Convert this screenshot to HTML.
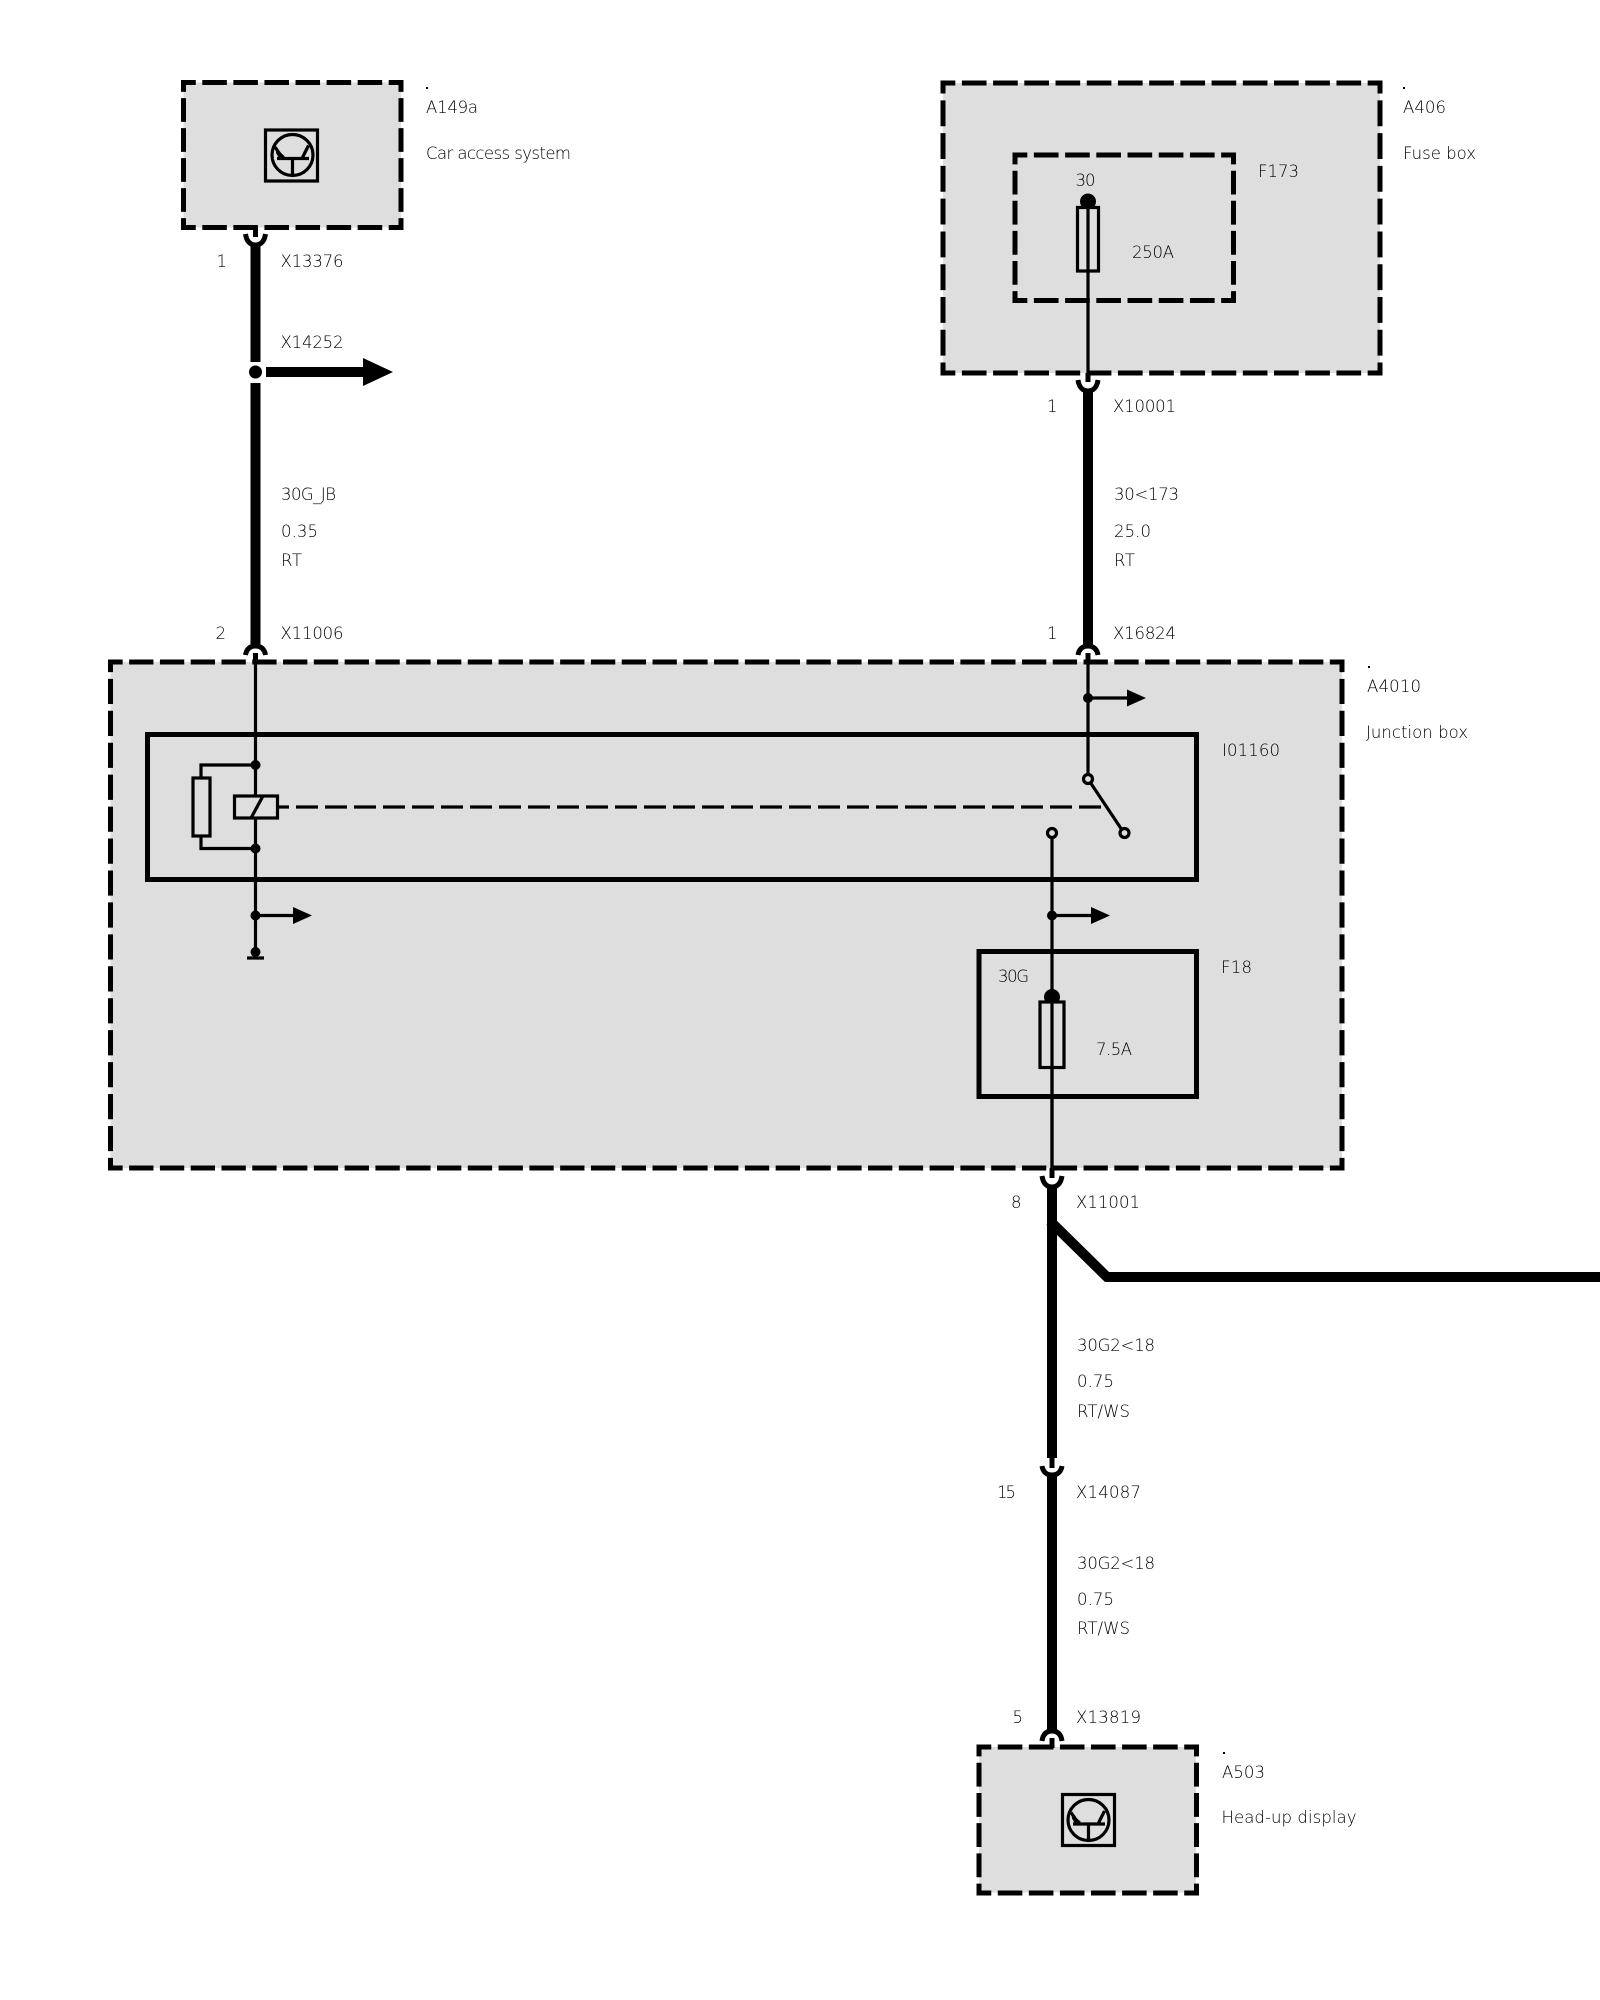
<!DOCTYPE html>
<html><head><meta charset="utf-8"><style>
html,body{margin:0;padding:0;background:#fff;width:1600px;height:2000px;overflow:hidden}
svg{display:block}
text{font-family:"DejaVu Sans ExtraLight","DejaVu Sans","Liberation Sans",sans-serif;font-weight:200;font-size:16.5px;fill:#000}
.d{fill:none;stroke:#000;stroke-width:5;stroke-dasharray:.79 .21;stroke-dashoffset:.395}
.w{fill:none;stroke:#000;stroke-width:3.2}
.s{fill:none;stroke:#000;stroke-width:5}
.t{fill:none;stroke:#000;stroke-width:10}
.p{fill:none;stroke:#000;stroke-width:5}
.c{fill:none;stroke:#000;stroke-width:5}
.g{fill:#dedede;stroke:#000;stroke-width:3.2}
</style></head><body>
<svg width="1600" height="2000" viewBox="0 0 1600 2000" xmlns="http://www.w3.org/2000/svg">
<rect width="1600" height="2000" fill="#fff"/>
<!-- fills -->
<rect x="183.5" y="82.5" width="217.5" height="145" fill="#dedede"/>
<rect x="943" y="83" width="437" height="290" fill="#dedede"/>
<rect x="110.5" y="662" width="1231.5" height="506" fill="#dedede"/>
<rect x="979" y="1747" width="217" height="145.5" fill="#dedede"/>

<!-- A149a dashed -->
<path class="d" pathLength="7" d="M183.5 82.5H401"/><path class="d" pathLength="7" d="M183.5 227.5H401"/>
<path class="d" pathLength="5" d="M183.5 80V230"/><path class="d" pathLength="5" d="M401 80V230"/>
<!-- A406 dashed -->
<path class="d" pathLength="14" d="M943 83H1380"/><path class="d" pathLength="14" d="M943 373H1380"/>
<path class="d" pathLength="9" d="M943 80.5V375.5"/><path class="d" pathLength="9" d="M1380 80.5V375.5"/>
<!-- F173 dashed -->
<path class="d" pathLength="7" d="M1015 155H1233.5"/><path class="d" pathLength="7" d="M1015 300.5H1233.5"/>
<path class="d" pathLength="5" d="M1015 152.5V303"/><path class="d" pathLength="5" d="M1233.5 152.5V303"/>
<!-- A4010 dashed -->
<path class="d" pathLength="40" d="M110.5 662H1342"/><path class="d" pathLength="40" d="M110.5 1168H1342"/>
<path class="d" pathLength="16" d="M110.5 659.5V1170.5"/><path class="d" pathLength="16" d="M1342 659.5V1170.5"/>
<!-- A503 dashed -->
<path class="d" pathLength="7" d="M979 1747H1196.5"/><path class="d" pathLength="7" d="M979 1893H1196.5"/>
<path class="d" pathLength="5" d="M979 1744.5V1895.5"/><path class="d" pathLength="5" d="M1196.5 1744.5V1895.5"/>

<!-- solid boxes -->
<rect class="s" x="147.5" y="734.5" width="1049" height="145"/>
<rect class="s" x="979" y="951.5" width="217.5" height="145"/>

<!-- IC symbol A149a -->
<g>
<rect x="265.5" y="130" width="52" height="51" fill="none" stroke="#000" stroke-width="3.2"/>
<circle cx="292.5" cy="155" r="20.5" fill="none" stroke="#000" stroke-width="3.2"/>
<path d="M277 158.5H309M292.5 158.5V175M302 158.5L308.5 145.5M283 158.5L275 147" fill="none" stroke="#000" stroke-width="3.2"/>
<path d="M275.5 148L285 156.5L279 158L276 153Z" fill="#000"/>
</g>
<!-- IC symbol A503 -->
<g>
<rect x="1062.5" y="1794.5" width="52" height="51" fill="none" stroke="#000" stroke-width="3.2"/>
<circle cx="1088.5" cy="1820" r="20.5" fill="none" stroke="#000" stroke-width="3.2"/>
<path d="M1073 1824H1105M1088.5 1824V1840M1098 1824L1104.5 1811M1079 1824L1071 1812.5" fill="none" stroke="#000" stroke-width="3.2"/>
<path d="M1071.5 1813.5L1081 1822L1075 1823.5L1072 1818.5Z" fill="#000"/>
</g>

<!-- Left top wire -->
<path class="p" d="M255.5 228V237"/>
<path class="c" d="M245.5 234C246.5 241 250 245 255.5 245C261 245 264.5 241 265.5 234"/>
<path class="t" d="M255.5 244V362"/>
<circle cx="255.5" cy="372" r="6.5" fill="#000"/>
<path class="t" d="M266 372H364"/>
<path d="M363 358L393 372L363 386Z" fill="#000"/>
<path class="t" d="M255.5 383V646"/>
<path class="c" d="M245.5 655C246.5 649 250 646 255.5 646C261 646 264.5 649 265.5 655"/>
<path class="p" d="M255.5 653V663"/>

<!-- Left internal wire -->
<path class="w" d="M255.5 662V796M255.5 818V952"/>
<circle cx="255.5" cy="765" r="5" fill="#000"/>
<circle cx="255.5" cy="848.5" r="5" fill="#000"/>
<path class="w" d="M255 765H201V778M201 836V848.5H255"/>
<rect class="g" x="193" y="778" width="17" height="58"/>
<rect class="g" x="234.5" y="796" width="43" height="22"/>
<path class="w" d="M251 818L263 796"/>
<path class="w" stroke-dasharray="22 7" stroke-dashoffset="10" d="M277 807H1103"/>
<circle cx="255.5" cy="915.5" r="5" fill="#000"/>
<path class="w" d="M255 915.5H294"/>
<path d="M293 907L312 915.5L293 924Z" fill="#000"/>
<circle cx="255.5" cy="952" r="5" fill="#000"/>
<path class="w" d="M247 958H264"/>

<!-- Right top: fuse F173 -->
<circle cx="1088" cy="201.5" r="8" fill="#000"/>
<rect class="g" x="1077.5" y="207.5" width="21" height="63.5"/>
<path class="w" d="M1088 201V380"/>
<path class="p" d="M1088 373V382"/>
<path class="c" d="M1078 380C1079 387 1082.5 391 1088 391C1093.5 391 1097 387 1098 380"/>
<path class="t" d="M1088 390V646"/>
<path class="c" d="M1078 655C1079 649 1082.5 646 1088 646C1093.5 646 1097 649 1098 655"/>
<path class="p" d="M1088 653V663"/>
<path class="w" d="M1088 662V775"/>
<circle cx="1088" cy="698" r="5" fill="#000"/>
<path class="w" d="M1088 698H1128"/>
<path d="M1127 689.5L1146 698L1127 706.5Z" fill="#000"/>
<!-- switch -->
<path class="w" d="M1088 779L1124 833"/>
<circle cx="1088" cy="779" r="4.5" class="g"/>
<circle cx="1124.5" cy="833" r="4.5" class="g"/>
<circle cx="1052" cy="833" r="4.5" class="g"/>
<path class="w" d="M1052 838V1172"/>
<circle cx="1052" cy="915.5" r="5" fill="#000"/>
<path class="w" d="M1052 915.5H1092"/>
<path d="M1091 907L1110 915.5L1091 924Z" fill="#000"/>
<!-- F18 fuse -->
<circle cx="1052" cy="997" r="8" fill="#000"/>
<rect class="g" x="1040" y="1002" width="24" height="65.5"/>
<path class="w" d="M1052 990V1172"/>
<!-- Bottom -->
<path class="p" d="M1052 1168V1178"/>
<path class="c" d="M1042 1176C1043 1183 1046.5 1187 1052 1187C1057.5 1187 1061 1183 1062 1176"/>
<path class="t" d="M1052 1186V1458"/>
<path class="t" stroke-linejoin="miter" d="M1050 1221L1107 1277H1600"/>
<path class="p" d="M1052 1457V1468"/>
<path class="c" d="M1042 1466C1043 1472 1046.5 1475 1052 1475C1057.5 1475 1061 1472 1062 1466"/>
<path class="t" d="M1052 1475V1732"/>
<path class="c" d="M1042 1741C1043 1734 1046.5 1731 1052 1731C1057.5 1731 1061 1734 1062 1741"/>
<path class="p" d="M1052 1738V1748"/>

<!-- small dots -->
<rect x="426" y="87" width="2" height="2" fill="#000"/>
<rect x="1403" y="87" width="2" height="2" fill="#000"/>
<rect x="1368" y="666" width="2" height="2" fill="#000"/>
<rect x="1223" y="1752" width="2" height="2" fill="#000"/>

<!-- labels -->
<text x="426" y="113" textLength="52">A149a</text>
<text x="426" y="159" textLength="145">Car access system</text>
<text x="216.5" y="267">1</text>
<text x="280.5" y="267" textLength="63">X13376</text>
<text x="280.5" y="348" textLength="63">X14252</text>
<text x="281" y="500" textLength="55">30G_JB</text>
<text x="281" y="537" textLength="37">0.35</text>
<text x="281" y="566" textLength="21">RT</text>
<text x="215.5" y="639">2</text>
<text x="280.5" y="639" textLength="63">X11006</text>

<text x="1403" y="113" textLength="43">A406</text>
<text x="1403" y="159" textLength="73">Fuse box</text>
<text x="1258" y="177" textLength="41">F173</text>
<text x="1075.5" y="186" textLength="20">30</text>
<text x="1132" y="258" textLength="42">250A</text>
<text x="1047" y="412">1</text>
<text x="1113" y="412" textLength="63">X10001</text>
<text x="1114" y="500" textLength="65">30&lt;173</text>
<text x="1114" y="537" textLength="37">25.0</text>
<text x="1114" y="566" textLength="21">RT</text>
<text x="1047" y="639">1</text>
<text x="1113" y="639" textLength="63">X16824</text>

<text x="1367" y="692" textLength="54">A4010</text>
<text x="1366" y="738" textLength="102">Junction box</text>
<text x="1222" y="756" textLength="58">I01160</text>
<text x="1221" y="973" textLength="31">F18</text>
<text x="998" y="982" textLength="31">30G</text>
<text x="1096" y="1055" textLength="36">7.5A</text>

<text x="1011" y="1208">8</text>
<text x="1076" y="1208" textLength="64">X11001</text>
<text x="1077" y="1351" textLength="78">30G2&lt;18</text>
<text x="1077" y="1387" textLength="37">0.75</text>
<text x="1077" y="1417" textLength="53">RT/WS</text>
<text x="997" y="1498" textLength="19">15</text>
<text x="1076" y="1498" textLength="65">X14087</text>
<text x="1077" y="1569" textLength="78">30G2&lt;18</text>
<text x="1077" y="1605" textLength="37">0.75</text>
<text x="1077" y="1634" textLength="53">RT/WS</text>
<text x="1012.5" y="1723">5</text>
<text x="1076" y="1723" textLength="65">X13819</text>
<text x="1222" y="1778" textLength="43">A503</text>
<text x="1221.5" y="1823" textLength="135">Head-up display</text>
</svg>
</body></html>
